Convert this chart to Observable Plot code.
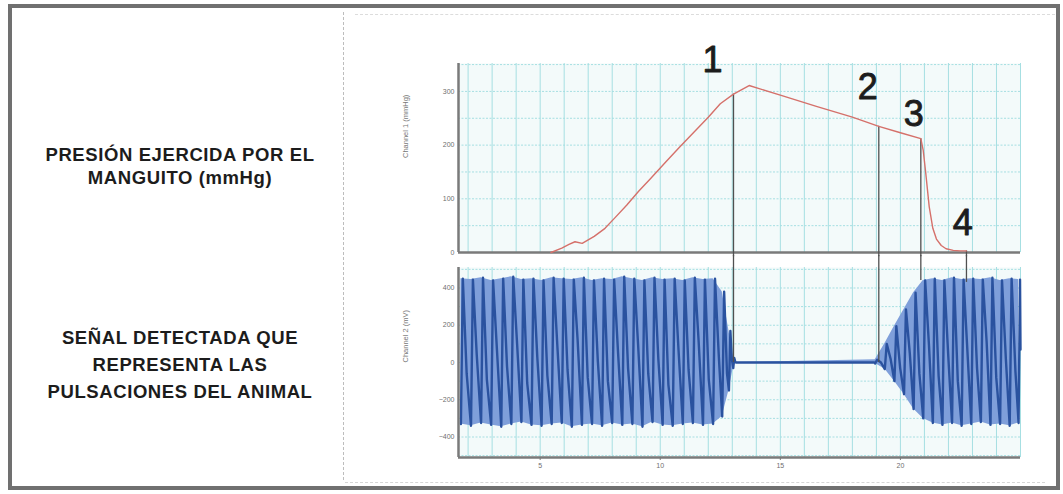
<!DOCTYPE html>
<html>
<head>
<meta charset="utf-8">
<script src="https://cdn.jsdelivr.net/npm/d3@7"></script>
<script src="https://cdn.jsdelivr.net/npm/@observablehq/plot@0.6"></script>
<style>
  html, body { margin: 0; padding: 0; background: #fff; }
  body { width: 1063px; height: 494px; overflow: hidden; position: relative; font-family: "Liberation Sans", Arial, sans-serif; }
  #border { position: absolute; left: 8px; top: 4px; width: 1044px; height: 478px; border: 4px solid #707070; }
  .lbl { position: absolute; left: 20px; width: 320px; text-align: center; font-weight: bold; font-size: 18.5px; letter-spacing: 0.6px; color: #1c1c1c; }
  #lbl1 { top: 143px; line-height: 23px; }
  #lbl2 { top: 324px; line-height: 27px; }
  #scanV { position: absolute; left: 343px; top: 12px; height: 468px; border-left: 1px dashed #bdbdbd; }
  #scanT { position: absolute; left: 355px; top: 14px; width: 700px; border-top: 1px dashed #dcdcdc; }
  #scanB { position: absolute; left: 345px; top: 482px; width: 700px; border-top: 1px dashed #d6d6d6; }
  .pl { position: absolute; left: 380px; }
  #topPlot { top: 40px; }
  #botPlot { top: 255px; }
</style>
</head>
<body>
<div id="border"></div>
<div id="scanV"></div>
<div id="scanT"></div>
<div id="scanB"></div>
<div class="lbl" id="lbl1">PRESIÓN EJERCIDA POR EL<br>MANGUITO (mmHg)</div>
<div class="lbl" id="lbl2">SEÑAL DETECTADA QUE<br>REPRESENTA LAS<br>PULSACIONES DEL ANIMAL</div>
<div class="pl" id="topPlot"></div>
<div class="pl" id="botPlot"></div>
<script>
// ---------- axes / ticks ----------
const xDomain = [1.6, 25];
const xTicks = [5, 10, 15, 20];
const xGrid = [2,3,4,5,6,7,8,9,10,11,12,13,14,15,16,17,18,19,20,21,22,23,24,25];
const yTicksTop = [0, 100, 200, 300];
const yGridTop = [50, 100, 150, 200, 250, 300, 350];
const yDomainTop = [0, 352];
const yTicksBot = [-400, -200, 0, 200, 400];
const yGridBot = [-500, -400, -300, -200, -100, 0, 100, 200, 300, 400, 500];
const yDomainBot = [-510, 510];
const yLabelTop = "Channel 1 (mmHg)";
const yLabelBot = "Channel 2 (mV)";

// ---------- cuff pressure (mmHg) ----------
const pressT = [5.45, 5.9, 6.2, 6.45, 6.75, 7.25, 7.7, 8.1, 8.6, 9.1, 9.6, 10.2, 10.8, 11.4, 12.0, 12.5, 13.05, 13.7, 15.0, 16.5, 18.0, 19.1, 20.0, 20.85, 20.95, 21.05, 21.2, 21.35, 21.5, 21.7, 21.9, 22.2, 22.5, 22.75];
const pressV = [0, 8, 15, 20, 17, 30, 45, 64, 88, 114, 138, 167, 196, 224, 252, 277, 295, 311, 293, 272, 252, 235, 223, 212, 190, 150, 85, 45, 25, 13, 7, 4, 3, 3];

// ---------- pulse signal (mV): per beat trough, systolic peak, mid notch ----------
const beatT = [1.70, 2.12, 2.54, 2.96, 3.38, 3.80, 4.22, 4.64, 5.06, 5.48, 5.90, 6.32, 6.74, 7.16, 7.58, 8.00, 8.42, 8.84, 9.26, 9.68, 10.10, 10.52, 10.94, 11.36, 11.78, 12.20, 12.58, 12.86, 13.04, 13.15,
               18.95, 19.35, 19.75, 20.15, 20.55, 20.95, 21.35, 21.75, 22.15, 22.55, 22.95, 23.35, 23.75, 24.15, 24.55, 24.92];
const beatLo = [-330, -340, -325, -335, -345, -330, -320, -335, -340, -330, -325, -345, -335, -330, -340, -325, -335, -330, -345, -320, -335, -340, -330, -325, -335, -330, -290, -150, -30, 0,
                -5, -35, -100, -170, -250, -300, -325, -335, -325, -340, -330, -320, -335, -330, -340, -325];
const peakT = [1.78, 2.20, 2.62, 3.04, 3.46, 3.88, 4.30, 4.72, 5.14, 5.56, 5.98, 6.40, 6.82, 7.24, 7.66, 8.08, 8.50, 8.92, 9.34, 9.76, 10.18, 10.60, 11.02, 11.44, 11.86, 12.28, 12.66, 12.92, 13.08, 18.88,
               19.03, 19.43, 19.83, 20.23, 20.63, 21.03, 21.43, 21.83, 22.23, 22.63, 23.03, 23.43, 23.83, 24.23, 24.63, 24.98];
const beatHi = [450, 445, 455, 440, 450, 460, 445, 450, 440, 455, 450, 445, 455, 440, 450, 445, 460, 450, 440, 455, 445, 450, 440, 455, 445, 450, 380, 170, 25, 0,
                15, 100, 195, 285, 375, 440, 450, 440, 455, 445, 450, 445, 455, 440, 450, 445];
const midT = [1.94, 2.36, 2.78, 3.20, 3.62, 4.04, 4.46, 4.88, 5.30, 5.72, 6.14, 6.56, 6.98, 7.40, 7.82, 8.24, 8.66, 9.08, 9.50, 9.92, 10.34, 10.76, 11.18, 11.60, 12.02, 12.44, 12.78, 12.98, 13.12, 18.92,
              19.19, 19.59, 19.99, 20.39, 20.79, 21.19, 21.59, 21.99, 22.39, 22.79, 23.19, 23.59, 23.99, 24.39, 24.79, 25.0];
const midV = [-60, 40, -90, 70, -20, 100, -110, 30, -70, 80, -40, 120, -80, 10, -100, 60, -30, 90, -60, 20, -120, 70, -40, 110, -90, 30, -60, 20, 5, 0,
              0, 20, -30, 50, -60, 90, -70, 40, -100, 60, -30, 110, -80, 20, -50, 70];

// ---------- numbered markers ----------
const markLabel = ["1", "2", "3", "4"];
const markX = [13.05, 19.1, 20.85, 22.75];
const markPress = [295, 235, 212, 3];
const markSignal = [0, 0, 440, 430];
const labelX = [12.18, 18.64, 20.56, 22.6];
const labelY = [357, 307, 258, 55];

// ---------- tables ----------
const pressure = pressT.map((t, i) => ({t, v: pressV[i]}));
const signal = [];
beatT.forEach((t, i) => {
  signal.push({t, v: beatLo[i]});
  signal.push({t: peakT[i], v: beatHi[i]});
  signal.push({t: midT[i], v: midV[i]});
});
const envelope = beatT.map((t, i) => ({t, lo: beatLo[i], hi: beatHi[i]}));
const markers = markX.map((x, i) => ({x, p: markPress[i], s: markSignal[i]}));
const labels = markLabel.map((text, i) => ({text, x: labelX[i], y: labelY[i]}));

const gridColor = "#a6dfe2";
const axisColor = "#7a7a7a";
const common = {
  width: 680, marginLeft: 78, marginRight: 40,
  style: {background: "transparent", overflow: "visible", fontFamily: "Liberation Sans, Arial, sans-serif"}
};

const topPlot = Plot.plot({
  ...common,
  height: 225, marginTop: 23, marginBottom: 13,
  x: {domain: xDomain, axis: null},
  y: {domain: yDomainTop},
  marks: [
    Plot.frame({fill: "#f3fafa", stroke: null}),
    Plot.gridX(xGrid, {stroke: gridColor, strokeOpacity: 1, strokeWidth: 1}),
    Plot.gridY(yGridTop, {stroke: gridColor, strokeOpacity: 1, strokeWidth: 1, strokeDasharray: "2,1.5"}),
    Plot.axisY(yTicksTop, {tickSize: 0, tickPadding: 4, fontSize: 7, fill: "#6f6f6f", label: null}),
    Plot.text([yLabelTop], {frameAnchor: "left", dx: -53, rotate: -90, fontSize: 7.5, fill: "#777"}),
    Plot.ruleX([xDomain[0]], {stroke: axisColor, strokeWidth: 2.5}),
    Plot.ruleY([0], {stroke: axisColor, strokeWidth: 2.5}),
    Plot.ruleX(markers, {x: "x", y1: -8, y2: "p", stroke: "#505050", strokeWidth: 1.3}),
    Plot.line(pressure, {x: "t", y: "v", stroke: "#d5706a", strokeWidth: 1.4}),
    Plot.text(labels, {x: "x", y: "y", text: "text", fontSize: 36, fill: "#1c1c1c", stroke: "#1c1c1c", strokeWidth: 0.9, fontFamily: "Liberation Sans, Arial, sans-serif"})
  ]
});
document.getElementById("topPlot").append(topPlot);

const botPlot = Plot.plot({
  ...common,
  height: 240, marginTop: 12, marginBottom: 38,
  x: {domain: xDomain},
  y: {domain: yDomainBot},
  marks: [
    Plot.frame({fill: "#f3fafa", stroke: null}),
    Plot.gridX(xGrid, {stroke: gridColor, strokeOpacity: 1, strokeWidth: 1}),
    Plot.gridY(yGridBot, {stroke: gridColor, strokeOpacity: 1, strokeWidth: 1, strokeDasharray: "2,1.5"}),
    Plot.areaY(envelope, {x: "t", y1: "lo", y2: "hi", fill: "#7f9fda"}),
    Plot.line(signal, {x: "t", y: "v", stroke: "#2a529f", strokeWidth: 2.4}),
    Plot.axisY(yTicksBot, {tickSize: 0, tickPadding: 4, fontSize: 7, fill: "#6f6f6f", label: null}),
    Plot.axisX(xTicks, {tickSize: 3, tickPadding: 3, fontSize: 7, fill: "#6f6f6f", stroke: axisColor, label: null}),
    Plot.text([yLabelBot], {frameAnchor: "left", dx: -53, rotate: -90, fontSize: 7.5, fill: "#777"}),
    Plot.ruleX([xDomain[0]], {stroke: axisColor, strokeWidth: 2.5}),
    Plot.ruleY([yDomainBot[0]], {stroke: axisColor, strokeWidth: 2.5}),
    Plot.ruleX(markers, {x: "x", y1: "s", y2: 575, stroke: "#505050", strokeWidth: 1.3})
  ]
});
document.getElementById("botPlot").append(botPlot);
</script>
</body>
</html>
